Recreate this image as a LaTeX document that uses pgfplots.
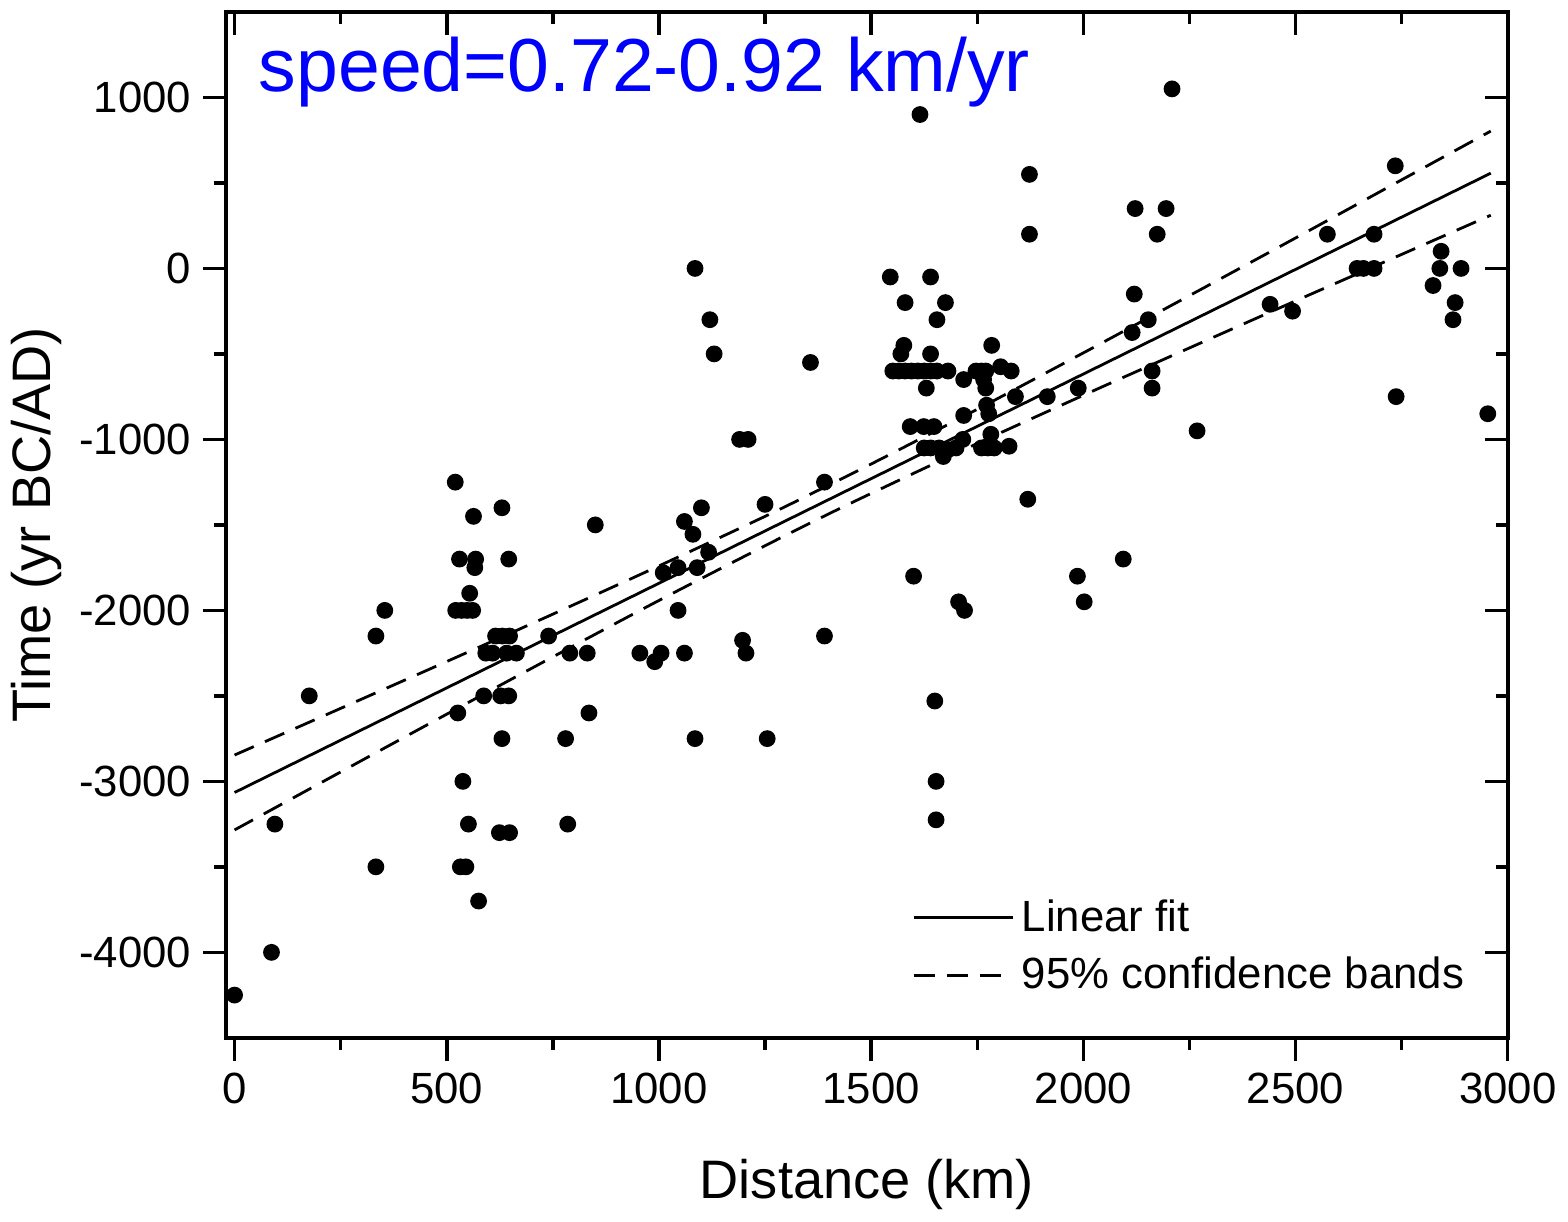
\documentclass[border=0pt]{standalone}
\usepackage{fontspec}
\setmainfont{Liberation Sans}
\usepackage{pgfplots}
\pgfplotsset{compat=1.18}

% sites: distance (km) vs. arrival time (yr BC/AD)
\pgfplotstableread{
x y
0 -4250
87 -4000
95 -3250
176 -2500
333 -2150
354 -2000
333 -3500
520 -1250
530 -1700
568 -1700
566 -1750
563 -1450
554 -1900
521 -2000
535 -2000
548 -2000
561 -2000
526 -2600
538 -3000
551 -3250
532 -3500
545 -3500
575 -3700
587 -2500
627 -2500
646 -2500
630 -1400
646 -1700
615 -2150
631 -2150
648 -2150
592 -2250
608 -2250
641 -2250
664 -2250
630 -2750
624 -3300
648 -3300
740 -2150
790 -2250
831 -2250
835 -2600
780 -2750
785 -3250
850 -1500
955 -2250
990 -2300
1005 -2250
1060 -2250
1010 -1780
1045 -1750
1090 -1750
1045 -2000
1060 -1480
1080 -1555
1100 -1400
1117 -1660
1085 0
1120 -300
1130 -500
1190 -1000
1210 -1000
1197 -2175
1205 -2250
1085 -2750
1250 -1380
1255 -2750
1357 -550
1390 -1250
1390 -2150
1545 -50
1640 -50
1615 900
1580 -200
1675 -200
1655 -300
1577 -450
1570 -500
1640 -500
1784 -450
1551 -600
1565 -600
1580 -600
1595 -600
1610 -600
1625 -600
1640 -600
1655 -600
1681 -600
1718 -650
1747 -600
1760 -600
1770 -600
1805 -575
1830 -600
1765 -650
1770 -700
1630 -700
1840 -750
1772 -800
1777 -850
1718 -860
1592 -925
1624 -925
1648 -925
1782 -970
1716 -1000
1625 -1050
1640 -1050
1660 -1050
1680 -1060
1700 -1050
1760 -1050
1775 -1050
1790 -1050
1825 -1040
1670 -1100
1869 -1350
1600 -1800
1706 -1950
1720 -2000
1650 -2530
1653 -3000
1653 -3225
1873 550
1873 200
1915 -750
1988 -700
1986 -1800
2002 -1950
2094 -1700
2122 350
2195 350
2174 200
2209 1050
2120 -150
2153 -300
2115 -375
2162 -600
2162 -700
2268 -950
2440 -210
2493 -250
2575 200
2645 0
2660 0
2685 0
2685 200
2735 600
2737 -750
2843 100
2840 0
2890 0
2824 -100
2876 -200
2871 -300
2953 -850
}\sites

\pgfplotsset{
  base/.style={
    width=12.88cm, height=10.31cm, scale only axis,
    xmin=-20, xmax=3000, ymin=-4500, ymax=1500,
    xtick={0,500,...,3000}, ytick={-4000,-3000,...,1000},
    minor x tick num=1, minor y tick num=1,
    axis line style={line width=1pt},
    every tick/.style={black, line width=1pt},
    major tick length=6.5pt, minor tick length=3.5pt,
  }
}

\begin{document}
\begin{tikzpicture}
\begin{axis}[base, name=main,
  tick align=outside, xtick pos=lower, ytick pos=left,
  /pgf/number format/assume math mode=true,
  /pgf/number format/1000 sep={},
  ticklabel style={font=\fontsize{12.5}{14}\selectfont},
  xlabel={Distance (km)}, ylabel={Time (yr BC/AD)},
  label style={font=\fontsize{15.5}{18}\selectfont},
  xlabel style={yshift=-9pt},
  ylabel style={yshift=-2pt},
  legend style={draw=none, fill=none, at={(rel axis cs:0.535,0.035)},
    anchor=south west, font=\fontsize{12.5}{15}\selectfont,
    row sep=2pt, inner sep=0pt},
  legend cell align=left,
  legend image code/.code={\draw[#1] (0cm,0cm) -- (1cm,0cm);},
]
\addplot[only marks, mark=*, mark size=2.2pt, black, forget plot] table {\sites};
\addplot[black, line width=0.8pt] coordinates {(0,-3065) (2960,557)};
\addlegendentry{Linear fit}
\addplot[black, line width=0.8pt, dash pattern=on 6pt off 3.5pt, smooth] coordinates {
  (0,-2846) (250,-2573) (500,-2299) (750,-2022) (1000,-1740) (1250,-1450)
  (1380,-1292) (1500,-1144) (1750,-824) (2000,-494) (2250,-159) (2500,178)
  (2750,518) (2960,803)};
\addlegendentry{95\% confidence bands}
\addplot[black, line width=0.8pt, dash pattern=on 6pt off 3.5pt, smooth, forget plot] coordinates {
  (0,-3284) (250,-2945) (500,-2607) (750,-2272) (1000,-1942) (1250,-1622)
  (1380,-1460) (1500,-1316) (1750,-1024) (2000,-742) (2250,-465) (2500,-190)
  (2750,82) (2960,311)};
\node[anchor=base west, text=blue, font=\fontsize{21.5}{25}\selectfont, inner sep=0pt]
  at (rel axis cs:0.025,0.922) {speed=0.72-0.92 km/yr};
\end{axis}
\begin{axis}[base, overlay,
  tick align=inside, xtick pos=upper, ytick pos=right,
  xticklabels={}, yticklabels={},
]
\end{axis}
\path ([yshift=0.12cm]main.north west);
\end{tikzpicture}
\end{document}
